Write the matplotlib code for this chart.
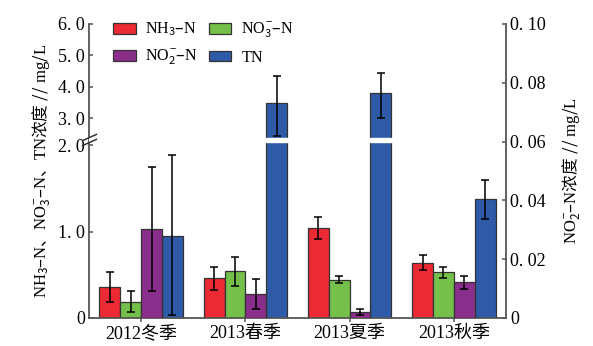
import numpy as np
import matplotlib
matplotlib.use("Agg")
import matplotlib.pyplot as plt
from matplotlib.patches import Patch

plt.rcParams['font.family'] = ['Liberation Serif', 'Noto Sans CJK SC']
# mathtext: \mathit used as a plain serif face for the Latin parts
plt.rcParams['mathtext.fontset'] = 'custom'
plt.rcParams['mathtext.rm'] = 'Noto Sans CJK SC'
plt.rcParams['mathtext.it'] = 'Liberation Serif'
plt.rcParams['mathtext.bf'] = 'Liberation Serif:bold'
plt.rcParams['axes.unicode_minus'] = False

seasons = ['2012冬季', '2013春季', '2013夏季', '2013秋季']

# concentrations (mg/L) and their errors
nh3 = [0.36, 0.46, 1.04, 0.64]
nh3_err = [0.17, 0.135, 0.13, 0.09]
no3 = [0.19, 0.54, 0.44, 0.53]
no3_err = [0.12, 0.165, 0.04, 0.065]
no2 = [0.0302, 0.0081, 0.0020, 0.0121]
no2_err = [0.021, 0.005, 0.001, 0.0021]
tn = [0.95, 3.47, 3.79, 1.37]
tn_err_lo = [0.92, 1.05, 0.79, 0.225]
tn_err_hi = [0.93, 0.86, 0.65, 0.225]

left_ticks = [0, 1, 2, 3, 4, 5, 6]
left_ticklabels = ['0', '1. 0', '2. 0', '3. 0', '4. 0', '5. 0', '6. 0']
right_ticks = [0, 0.02, 0.04, 0.06, 0.08, 0.10]
right_ticklabels = ['0', '0. 02', '0. 04', '0. 06', '0. 08', '0. 10']

c_red, c_green, c_purple, c_blue = '#ec2a33', '#74c04b', '#8a2e8c', '#2f5aa8'
edge = '#333333'

# broken axis: 0-2 full scale, 2-2.3 squeezed, 2.3-6 compressed
brk_v = np.array([0, 2.0, 2.3, 6.0])
brk_t = np.array([0, 173.0, 178.0, 294.0])


def fwd(v):
    return np.interp(v, brk_v, brk_t, left=-1e3, right=1e3)


def inv(t):
    return np.interp(t, brk_t, brk_v)


fig = plt.figure(figsize=(5.93, 3.46), dpi=100)
ax = fig.add_axes([89 / 593, 28 / 346, 417 / 593, 294 / 346])
ax.set_yscale('function', functions=(fwd, inv))
ax2 = ax.twinx()

x = np.arange(len(seasons))
w = 0.2
ekw = dict(elinewidth=1.1, capthick=1.1, ecolor='black')
bkw = dict(edgecolor=edge, linewidth=0.9, capsize=3, error_kw=ekw)

ax.bar(x - 1.5 * w, nh3, w, yerr=nh3_err, color=c_red, **bkw)
ax.bar(x - 0.5 * w, no3, w, yerr=no3_err, color=c_green, **bkw)
ax.bar(x + 1.5 * w, tn, w, yerr=[tn_err_lo, tn_err_hi], color=c_blue, **bkw)
ax2.bar(x + 0.5 * w, no2, w, yerr=no2_err, color=c_purple, **bkw)

ax.set_xlim(-0.5, 3.5)
ax.set_ylim(0, 6)
ax2.set_ylim(0, 0.10)

# gap through the tall bars + break marks on the left spine
ax.axhspan(2.18, 2.37, color='white', zorder=3)
ax.plot([0, 0], [2.16, 2.39], transform=ax.get_yaxis_transform(),
        linestyle='none', marker=[(-1, -0.45), (1, 0.45)], markersize=11,
        markeredgewidth=1.1, color='#333333', clip_on=False, zorder=4)

ax.set_yticks(left_ticks)
ax.set_yticklabels(left_ticklabels)
ax.yaxis.set_minor_locator(matplotlib.ticker.NullLocator())
ax2.set_yticks(right_ticks)
ax2.set_yticklabels(right_ticklabels)
ax.set_xticks(x)
ax.set_xticklabels(seasons)

spc = '#555555'
for a in (ax, ax2):
    a.spines['top'].set_visible(False)
    for s in a.spines.values():
        s.set_color(spc)
        s.set_linewidth(1.3)
ax2.spines['left'].set_visible(False)
ax2.spines['bottom'].set_visible(False)
ax.spines['right'].set_visible(False)

ax.tick_params(axis='y', direction='in', length=3, width=1.1, color=spc,
               labelsize=13, pad=3)
ax.tick_params(axis='x', direction='out', length=3, width=1.1, color=spc,
               labelsize=13, pad=2)
ax2.tick_params(axis='y', direction='in', length=3, width=1.1, color=spc,
                labelsize=13, pad=3)

cjk = 'Noto Sans CJK SC'
ax.set_ylabel(r'$\mathit{NH_3{–}N}$、$\mathit{NO_3^{-}{–}N}$、$\mathit{TN}$浓度'
              r'$\mathit{\ //\ mg/L}$', fontsize=12, labelpad=4, family=cjk)
ax2.set_ylabel(r'$\mathit{NO_2^{-}{–}N}$浓度$\mathit{\ //\ mg/L}$',
               fontsize=12, labelpad=10, family=cjk)

handles = [Patch(facecolor=c_red, edgecolor=edge, linewidth=0.9),
           Patch(facecolor=c_purple, edgecolor=edge, linewidth=0.9),
           Patch(facecolor=c_green, edgecolor=edge, linewidth=0.9),
           Patch(facecolor=c_blue, edgecolor=edge, linewidth=0.9)]
labels = [r'$\mathit{NH_3{–}N}$', r'$\mathit{NO_2^{-}{–}N}$',
          r'$\mathit{NO_3^{-}{–}N}$', r'$\mathit{TN}$']
ax.legend(handles, labels, ncol=2, loc='upper left', bbox_to_anchor=(0.024, 1.06),
          frameon=False, fontsize=11.5, handlelength=1.4, handleheight=0.65,
          handletextpad=0.6, columnspacing=0.7, labelspacing=0.6)

fig.savefig('out.png', dpi=100)
